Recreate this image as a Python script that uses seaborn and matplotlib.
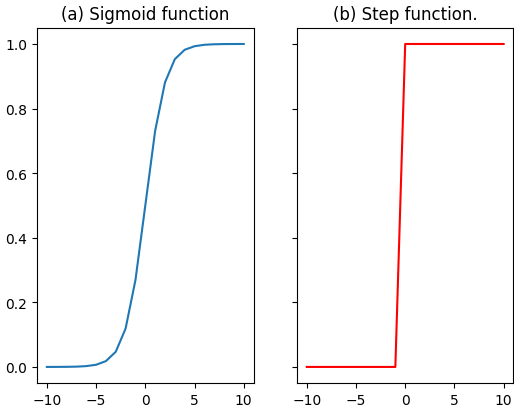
import matplotlib
matplotlib.use("Agg")
import matplotlib.pyplot as plt
import seaborn as sns
import pandas as pd

x_vals = [-10, -9, -8, -7, -6, -5, -4, -3, -2, -1, 0, 1, 2, 3, 4, 5, 6, 7, 8, 9, 10]
sigmoid_vals = [0.0000, 0.0001, 0.0003, 0.0009, 0.0025, 0.0067, 0.018, 0.047, 0.119, 0.269,
                0.500, 0.731, 0.881, 0.953, 0.982, 0.993, 0.9975, 0.9991, 0.9997, 0.9999, 1.0000]
step_vals = [0, 0, 0, 0, 0, 0, 0, 0, 0, 0, 1, 1, 1, 1, 1, 1, 1, 1, 1, 1, 1]
titles = ["(a) Sigmoid function", "(b) Step function."]

df = pd.DataFrame({"x": x_vals, "sigmoid": sigmoid_vals, "step": step_vals})

fig, axes = plt.subplots(1, 2, sharey=True, figsize=(5.14, 4.06), dpi=100)
fig.subplots_adjust(left=0.072, right=0.999, top=0.929, bottom=0.054, wspace=0.2)

sns.lineplot(data=df, x="x", y="sigmoid", ax=axes[0], color="#1f77b4", linewidth=1.5)
sns.lineplot(data=df, x="x", y="step", ax=axes[1], color="red", linewidth=1.5)

for ax, t in zip(axes, titles):
    ax.set_title(t, fontsize=12)
    ax.set_xlabel("")
    ax.set_ylabel("")
    ax.set_xticks([-10, -5, 0, 5, 10])
    ax.set_yticks([0.0, 0.2, 0.4, 0.6, 0.8, 1.0])
    ax.tick_params(labelsize=10)

fig.savefig("out.png", dpi=100)
